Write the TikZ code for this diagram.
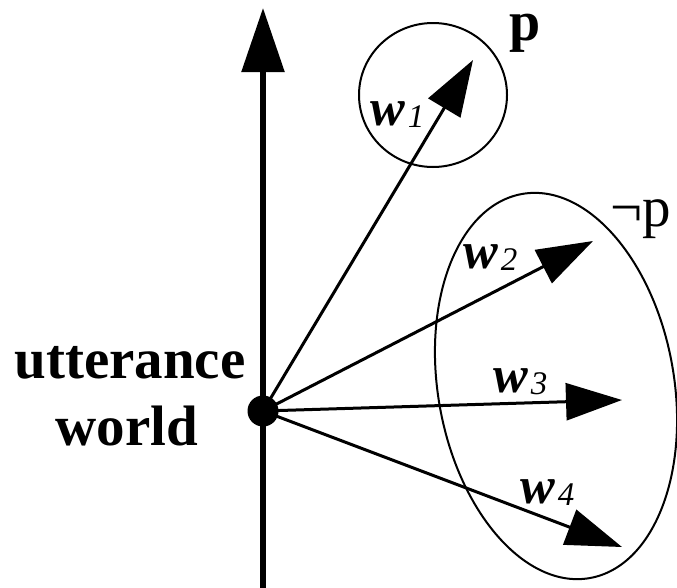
\documentclass[tikz,border=0pt]{standalone}
\usepackage{fontspec}
\setmainfont{Liberation Serif}
\usetikzlibrary{arrows.meta}
\newcommand{\wlab}[1]{{\fontsize{52}{52}\selectfont\bfseries\itshape w}\hspace{3pt}\raisebox{-0.22em}{\fontsize{33}{33}\selectfont\itshape #1}}
\begin{document}
\begin{tikzpicture}[x=1pt,y=-1pt,
  axis/.style={line width=5.5pt,-{Triangle[length=64pt,width=42pt]}},
  world/.style={line width=3pt,-{Triangle[length=56pt,width=37pt]}},
  region/.style={line width=2pt},
  bigtext/.style={font=\fontsize{57}{60}\selectfont\bfseries,anchor=base,inner sep=0},
  wtext/.style={anchor=base west,inner sep=0}]
\useasboundingbox (0,0) rectangle (677,587);
% vertical axis
\coordinate (bot) at (263,590);
\coordinate (top) at (263,8);
\draw[axis] (bot) -- (top);
% regions
\draw[region] (433,95) circle [x radius=74pt, y radius=72pt];
\draw[region, shift={(556,386)}, rotate=10] (0,0) ellipse [x radius=118pt, y radius=195pt];
% utterance world dot
\node[circle, fill=black, inner sep=0, minimum size=31pt] (u) at (263,411) {};
% world arrows
\coordinate (t1) at (473,60);
\coordinate (t2) at (593,241);
\coordinate (t3) at (622,400);
\coordinate (t4) at (622,547);
\draw[world] (u.center) -- (t1);
\draw[world] (u.center) -- (t2);
\draw[world] (u.center) -- (t3);
\draw[world] (u.center) -- (t4);
% labels
\node[bigtext] (l1) at (130,378) {utterance};
\node[bigtext] (l2) at (127,445) {world};
\node[font=\fontsize{56}{56}\selectfont\bfseries, anchor=base west, inner sep=0, text height=28pt] (p) at (509,40) {p};
\node[font=\fontsize{57}{57}\selectfont, anchor=base west, inner sep=0, text height=28pt] (np) at (610,226) {¬p};
\node[wtext] (w1) at (370,125) {\wlab{1}};
\node[wtext] (w2) at (463,268) {\wlab{2}};
\node[wtext] (w3) at (493,392) {\wlab{3}};
\node[wtext] (w4) at (520,503) {\wlab{4}};
\end{tikzpicture}
\end{document}
